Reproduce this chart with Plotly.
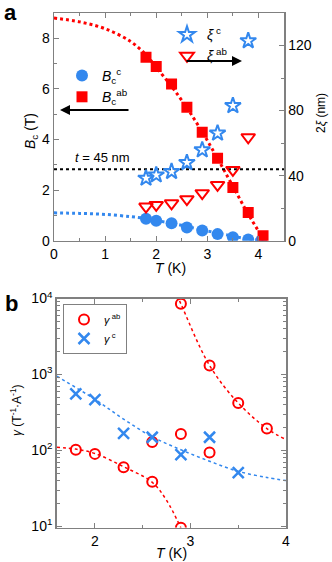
import plotly.graph_objects as go

# ---------------- Panel a data ----------------
T_a = [1.8, 2.0, 2.3, 2.6, 2.9, 3.2, 3.5, 3.8, 4.05]
Bc_c = [0.87, 0.79, 0.69, 0.52, 0.40, 0.26, 0.14, 0.05, 0.0]
T_ab = [1.8, 2.0, 2.3, 2.6, 2.9, 3.2, 3.5, 3.8, 4.09]
Bc_ab = [7.25, 6.89, 6.19, 5.27, 4.29, 3.26, 2.10, 1.11, 0.2]
T_xi = [1.8, 2.0, 2.3, 2.6, 2.9, 3.2, 3.5, 3.8]
xi_c = [38.4, 40.4, 42.5, 48.0, 55.8, 66.1, 83.0, 122.9]
xi_ab = [21.0, 22.0, 23.0, 25.5, 29.2, 34.3, 43.5, 63.6]

fit_ab_T = [0, 0.5, 1.0, 1.5, 1.8, 2.0, 2.3, 2.6, 2.9, 3.2, 3.5, 3.8, 4.12]
fit_ab_B = [8.8, 8.65, 8.38, 7.87, 7.35, 6.85, 6.1, 5.25, 4.3, 3.25, 2.15, 1.05, 0.0]
fit_c_T = [0, 0.5, 1.0, 1.5, 1.8, 2.0, 2.3, 2.6, 2.9, 3.2, 3.5, 3.8, 4.1]
fit_c_B = [1.1, 1.08, 1.04, 0.95, 0.88, 0.8, 0.69, 0.56, 0.43, 0.3, 0.18, 0.07, 0.0]
thickness_line = [44, 44]
thickness_T = [0, 4.5]

# ---------------- Panel b data ----------------
T_g_ab = [1.8, 2.0, 2.3, 2.6, 2.9, 2.6, 2.9, 3.2, 2.9, 3.2, 3.5, 3.8]
g_ab = [102, 90, 60, 38.7, 9.6, 129, 164, 94, 8500, 1312, 421, 194]
T_g_c = [1.8, 2.0, 2.3, 2.6, 2.9, 3.2, 3.5]
g_c = [555, 466, 167, 149, 88, 149, 51]

fit_gab_up_T = [2.86, 2.9, 3.2, 3.5, 3.8, 4.0]
fit_gab_up = [11000, 8500, 1312, 421, 194, 139]
fit_gab_lo_T = [1.6, 1.8, 2.0, 2.3, 2.6, 2.75, 2.9]
fit_gab_lo = [110, 104, 91, 61, 38, 22, 9.5]
fit_gc_T = [1.6, 2.0, 2.3, 2.6, 2.9, 3.2, 3.5, 3.8, 4.0]
fit_gc = [950, 470, 258, 151, 102, 72, 53, 44, 40]

y_ticks_b = [10, 100, 1000, 10000]
y_ticktext_b = ["10<sup>1</sup>", "10<sup>2</sup>", "10<sup>3</sup>", "10<sup>4</sup>"]
y_minor_b = [m * d for d in (10, 100, 1000) for m in range(2, 10)]

RED = "#ff0000"
BLUE = "#3388ee"
FONT = "Liberation Sans, Arial, sans-serif"
W, H = 332, 562

fig = go.Figure()

# panel a fits
fig.add_trace(go.Scatter(x=fit_ab_T, y=fit_ab_B, mode="lines", line=dict(color=RED, width=3, dash="dot", shape="spline"),
                         showlegend=False, xaxis="x", yaxis="y"))
fig.add_trace(go.Scatter(x=fit_c_T, y=fit_c_B, mode="lines", line=dict(color=BLUE, width=3, dash="dot", shape="spline"),
                         showlegend=False, xaxis="x", yaxis="y"))
fig.add_trace(go.Scatter(x=thickness_T, y=thickness_line, mode="lines", line=dict(color="black", width=2, dash="dot"),
                         showlegend=False, xaxis="x", yaxis="y2"))
# panel a markers
fig.add_trace(go.Scatter(x=T_a, y=Bc_c, mode="markers", name="<i>B</i><sub>c</sub><sup>c</sup>",
                         marker=dict(color=BLUE, size=12, symbol="circle"), xaxis="x", yaxis="y", legend="legend"))
fig.add_trace(go.Scatter(x=T_ab, y=Bc_ab, mode="markers", name="<i>B</i><sub>c</sub><sup>ab</sup>",
                         marker=dict(color=RED, size=11, symbol="square"), xaxis="x", yaxis="y", legend="legend"))
fig.add_trace(go.Scatter(x=T_xi, y=xi_c, mode="markers", name="<i>ξ</i><sup> c</sup>",
                         marker=dict(color=BLUE, size=12, symbol="star-open", line=dict(width=2, color=BLUE)),
                         xaxis="x", yaxis="y2", legend="legend2"))
fig.add_trace(go.Scatter(x=T_xi, y=xi_ab, mode="markers", name="<i>ξ</i><sup> ab</sup>",
                         marker=dict(color=RED, size=12, symbol="triangle-down-open", line=dict(width=2, color=RED)),
                         xaxis="x", yaxis="y2", legend="legend2"))

# panel b fits
for fx, fy, c in [(fit_gab_up_T, fit_gab_up, RED), (fit_gab_lo_T, fit_gab_lo, RED), (fit_gc_T, fit_gc, BLUE)]:
    fig.add_trace(go.Scatter(x=fx, y=fy, mode="lines", line=dict(color=c, width=1.5, dash="dot", shape="spline"),
                             showlegend=False, xaxis="x3", yaxis="y3"))
fig.add_trace(go.Scatter(x=T_g_ab, y=g_ab, mode="markers", name="<i>γ</i><sup> ab</sup>",
                         marker=dict(color=RED, size=10, symbol="circle-open", line=dict(width=2, color=RED)),
                         xaxis="x3", yaxis="y3", legend="legend3"))
fig.add_trace(go.Scatter(x=T_g_c, y=g_c, mode="markers", name="<i>γ</i><sup> c</sup>",
                         marker=dict(color=BLUE, size=11, symbol="x-thin-open", line=dict(width=2.5, color=BLUE)),
                         xaxis="x3", yaxis="y3", legend="legend3"))

AX = dict(showgrid=False, zeroline=False, showline=True, linecolor="#808080", linewidth=1.5,
          ticks="inside", ticklen=5, tickcolor="#808080", tickwidth=1, automargin=False,
          tickfont=dict(family=FONT, size=14, color="black"))
MINOR = dict(ticks="inside", ticklen=3, tickcolor="#808080")

def px(xp):
    return xp / W

def py(yp):
    return 1 - yp / H

fig.update_layout(
    template="none",
    width=W, height=H, margin=dict(l=0, r=0, t=0, b=0, pad=0),
    paper_bgcolor="white", plot_bgcolor="white",
    font=dict(family=FONT, size=13, color="black"),
    xaxis=dict(**AX, domain=[px(54), px(284)], range=[0, 4.5], dtick=1, tick0=0, mirror="ticks",
               minor=dict(**MINOR, dtick=0.5, tick0=0), anchor="y"),
    yaxis=dict(**AX, domain=[py(240.7), py(13)], range=[0, 9], dtick=2, tick0=0,
               minor=dict(**MINOR, dtick=1, tick0=0), anchor="x"),
    yaxis2=dict(**AX, range=[0, 140], dtick=40, tick0=0, overlaying="y", side="right", anchor="x",
                minor=dict(**MINOR, dtick=20, tick0=0)),
    xaxis3=dict(**AX, domain=[px(56.7), px(286)], range=[1.6, 4], dtick=1, tick0=0, mirror="ticks",
                minor=dict(**MINOR, dtick=0.5, tick0=0), anchor="y3"),
    yaxis3=dict(**AX, domain=[py(527.5), py(298.5)], type="log", range=[0.985, 4.0],
                tickmode="array", tickvals=y_ticks_b, ticktext=y_ticktext_b, mirror="ticks",
                minor=dict(**MINOR, tickmode="array", tickvals=y_minor_b), anchor="x3"),
    legend=dict(x=px(62), y=py(60), xanchor="left", yanchor="top", bgcolor="rgba(0,0,0,0)",
                font=dict(family=FONT, size=14), tracegroupgap=0),
    legend2=dict(x=px(167), y=py(19), xanchor="left", yanchor="top", bgcolor="rgba(0,0,0,0)",
                 font=dict(family=FONT, size=14), tracegroupgap=0),
    legend3=dict(x=px(63), y=py(304), xanchor="left", yanchor="top", bgcolor="white",
                 bordercolor="#808080", borderwidth=1, font=dict(family=FONT, size=11), tracegroupgap=0),
)

ann = []

def label(text, x, y, size=14, angle=0):
    ann.append(dict(text=text, x=px(x), y=py(y), xref="paper", yref="paper", showarrow=False,
                    xanchor="center", yanchor="middle", textangle=angle, font=dict(family=FONT, size=size)))

label("<b>a</b>", 10, 13, 22)
label("<b>b</b>", 11, 303, 22)
label("<i>B</i><sub>c</sub> (T)", 31, 131, 14, -90)
label("2<i>ξ</i> (nm)", 321, 113, 12, -90)
label("<i>T</i> (K)", 170, 268, 14)
label("<i>t</i> = 45 nm", 102, 157, 13)
label("<i>γ</i> (T<sup>-1</sup>·A<sup>-1</sup>)", 16, 410, 12, -90)
label("<i>T</i> (K)", 171, 553, 14)

# arrows
ann.append(dict(text="", x=px(60), y=py(110), xref="paper", yref="paper", showarrow=True,
                ax=70, ay=0, arrowhead=2, arrowsize=1, arrowwidth=2, arrowcolor="black"))
ann.append(dict(text="", x=px(242), y=py(61), xref="paper", yref="paper", showarrow=True,
                ax=-57, ay=0, arrowhead=2, arrowsize=1, arrowwidth=2, arrowcolor="black"))
fig.update_layout(annotations=ann)

fig.write_html("out.html", config={"displayModeBar": False, "staticPlot": True},
               post_script="document.body.style.margin='0';document.body.style.overflow='hidden';")
